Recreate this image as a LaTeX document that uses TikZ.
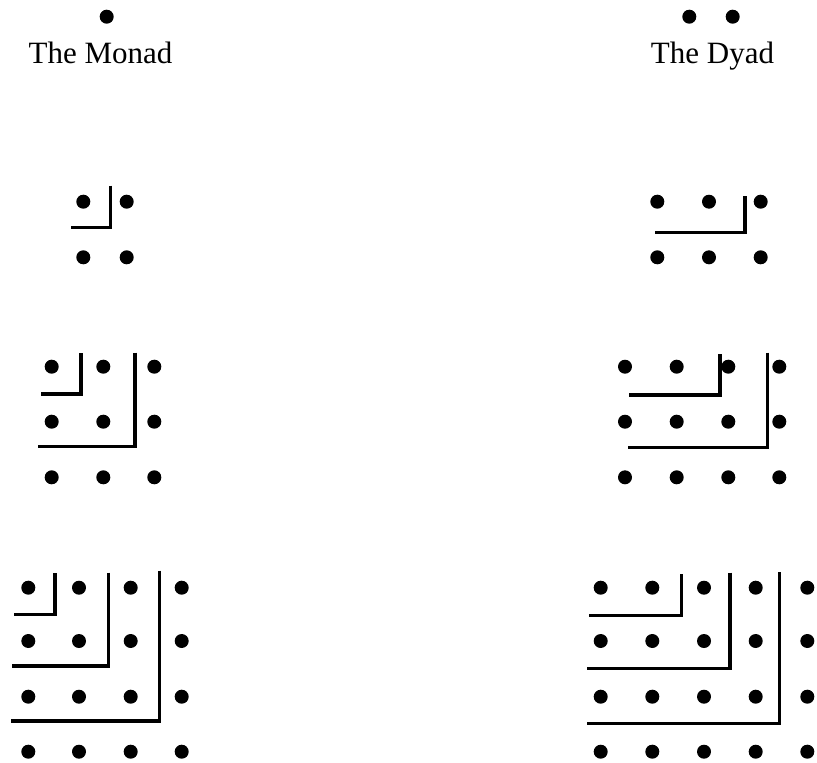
\documentclass[tikz,border=0pt]{standalone}
\usepackage{fontspec}
\setmainfont{Liberation Serif}
\begin{document}
\begin{tikzpicture}[x=1pt,y=-1pt,
  dot/.style={circle,fill=black,inner sep=0pt,minimum size=14pt},
  gnomon/.style={line width=3.2pt,line cap=butt,line join=miter},
  label/.style={anchor=base,font=\fontsize{31}{37}\selectfont}]
\useasboundingbox (0,0) rectangle (817,763);
% top: monad and dyad
\node[dot] (mo) at (106.7,16.7) {};
\node[label] (mol) at (100.5,63) {The Monad};
\node[dot] (dy1) at (689.3,16.7) {};
\node[dot] (dy2) at (732.7,16.7) {};
\node[label] (dyl) at (712.5,63) {The Dyad};
% left row 2 (2x2)
\foreach \x [count=\i] in {83.3,126.7}
  \foreach \y [count=\j] in {201.7,257.3}
    \node[dot] (la\i\j) at (\x,\y) {};
\draw[gnomon] (110.7,185.7) -- (110.7,227.3) -- (70.7,227.3);
% right row 2 (3x2)
\foreach \x [count=\i] in {657.3,709,760.7}
  \foreach \y [count=\j] in {201.7,257.3}
    \node[dot] (ra\i\j) at (\x,\y) {};
\draw[gnomon] (745,196) -- (745,232.7) -- (655,232.7);
% left row 3 (3x3)
\foreach \x [count=\i] in {51.7,103.3,154.3}
  \foreach \y [count=\j] in {366.7,421.7,477.3}
    \node[dot] (lb\i\j) at (\x,\y) {};
\draw[gnomon] (81,353.3) -- (81,394) -- (40.7,394);
\draw[gnomon] (135,352.7) -- (135,446.7) -- (37.7,446.7);
% right row 3 (4x3)
\foreach \x [count=\i] in {625,676.7,728.3,779.3}
  \foreach \y [count=\j] in {366.7,421.7,477.3}
    \node[dot] (rb\i\j) at (\x,\y) {};
\draw[gnomon] (720,354) -- (720,395) -- (629,395);
\draw[gnomon] (767.7,352.7) -- (767.7,447.7) -- (627.7,447.7);
% left row 4 (4x4)
\foreach \x [count=\i] in {28.3,79,130.7,181.7}
  \foreach \y [count=\j] in {587.7,641,696.7,751.7}
    \node[dot] (lc\i\j) at (\x,\y) {};
\draw[gnomon] (55,573.3) -- (55,614.3) -- (14.3,614.3);
\draw[gnomon] (108.3,572.7) -- (108.3,666) -- (11.7,666);
\draw[gnomon] (159.3,570.7) -- (159.3,721) -- (10.7,721);
% right row 4 (5x4)
\foreach \x [count=\i] in {600.7,652.3,704,755.7,807.3}
  \foreach \y [count=\j] in {587.7,641,696.7,751.7}
    \node[dot] (rc\i\j) at (\x,\y) {};
\draw[gnomon] (681.7,574.3) -- (681.7,615.7) -- (589,615.7);
\draw[gnomon] (730,572.7) -- (730,668.3) -- (587.3,668.3);
\draw[gnomon] (779.3,572.3) -- (779.3,723.3) -- (587.3,723.3);
\end{tikzpicture}
\end{document}
